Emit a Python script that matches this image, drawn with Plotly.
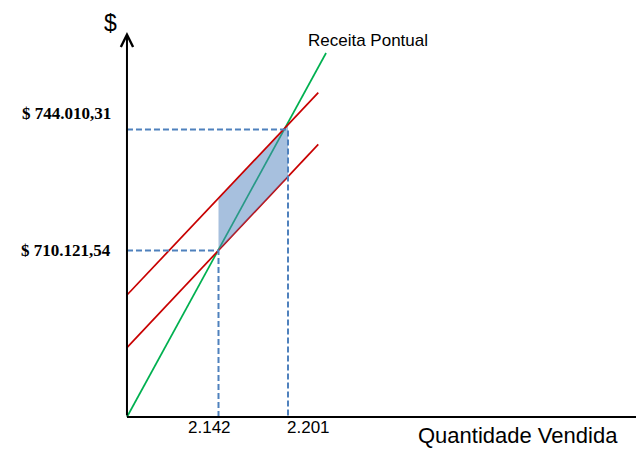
import numpy as np
import plotly.graph_objects as go

# ---- data ----
q_ticks = [2.142, 2.201]                   # Quantidade Vendida marks
r_ticks = [710121.54, 744010.31]           # $ marks
q_labels = ["2.142", "2.201"]
r_labels = ["$ 710.121,54", "$ 744.010,31"]

q_origin = 2.0643                          # axis origin (schematic)
r_origin = 663490.0
q_axis_end = 2.5032
r_axis_top = 771300.0

receita_q = [2.0643, 2.2333]               # Receita Pontual (green)
receita_r = [663490.0, 765435.0]
red_up_q = [2.0643, 2.2267]                # upper red line
red_up_r = [697658.0, 754316.0]
red_lo_q = [2.0643, 2.2267]                # lower red line
red_lo_r = [682899.0, 739865.0]

# page offset of the figure (body margin) and canvas
OFF = 8
W, H = 636, 441
x_range = [1.96330, 1.96330 + W * 0.00084892]
y_range = [778038.0 - H * 280.07, 778038.0]


def px(xp):
    return (xp - OFF) / W


def py(yp):
    return 1 - (yp - OFF) / H


fig = go.Figure()

fig.add_trace(go.Scatter(x=receita_q, y=receita_r, mode="lines",
                         line=dict(color="#00B050", width=1.7), hoverinfo="skip"))
fig.add_trace(go.Scatter(x=red_lo_q, y=red_lo_r, mode="lines",
                         line=dict(color="#C80000", width=1.7), hoverinfo="skip"))

up_a = np.interp(q_ticks[0], red_up_q, red_up_r)
up_b = np.interp(q_ticks[1], red_up_q, red_up_r)
lo_a = np.interp(q_ticks[0], red_lo_q, red_lo_r)
lo_b = np.interp(q_ticks[1], red_lo_q, red_lo_r)
fig.add_trace(go.Scatter(x=[q_ticks[0], q_ticks[0], q_ticks[1], q_ticks[1], q_ticks[0]],
                         y=[lo_a, up_a, up_b, lo_b, lo_a],
                         mode="lines", fill="toself", fillcolor="rgba(79,129,189,0.5)",
                         line=dict(width=0), hoverinfo="skip"))

fig.add_trace(go.Scatter(x=red_up_q, y=red_up_r, mode="lines",
                         line=dict(color="#C80000", width=1.7), hoverinfo="skip"))

for q, r in zip(q_ticks, r_ticks):
    fig.add_trace(go.Scatter(x=[q_origin, q, q], y=[r, r, r_origin], mode="lines",
                             line=dict(color="#4F81BD", width=2, dash="6px,3px"),
                             hoverinfo="skip"))

fig.add_trace(go.Scatter(x=[q_origin, x_range[1]], y=[r_origin, r_origin], mode="lines",
                         line=dict(color="black", width=2), hoverinfo="skip"))
fig.add_annotation(x=q_origin, y=r_axis_top, ax=q_origin, ay=r_origin,
                   xref="x", yref="y", axref="x", ayref="y",
                   showarrow=True, arrowhead=5, arrowsize=1.2, arrowwidth=2,
                   arrowcolor="black", text="")

for r, lab, ys in zip(r_ticks, r_labels, [0, 16]):
    fig.add_annotation(x=q_origin, y=r, xref="x", yref="y", text="<b>" + lab + "</b>",
                       showarrow=False, xanchor="right", yanchor="middle",
                       xshift=-14, yshift=ys,
                       font=dict(family="Liberation Serif", size=17, color="black"))
for q, lab, xs in zip(q_ticks, q_labels, [-9.5, 20]):
    fig.add_annotation(x=q, y=r_origin, xref="x", yref="y", text=lab,
                       showarrow=False, xanchor="center", yanchor="middle",
                       xshift=xs, yshift=-10,
                       font=dict(family="Liberation Sans", size=17, color="black"))

fig.add_annotation(x=px(517.5), y=py(435), xref="paper", yref="paper",
                   text="Quantidade Vendida", showarrow=False,
                   xanchor="center", yanchor="middle",
                   font=dict(family="Liberation Sans", size=22, color="black"))
fig.add_annotation(x=px(110), y=py(23), xref="paper", yref="paper",
                   text="$", showarrow=False, xanchor="center", yanchor="middle",
                   borderpad=0,
                   font=dict(family="Liberation Sans", size=23, color="black"))
fig.add_annotation(x=px(368), y=py(40), xref="paper", yref="paper",
                   text="Receita Pontual", showarrow=False,
                   xanchor="center", yanchor="middle",
                   font=dict(family="Liberation Sans", size=17, color="black"))

fig.update_layout(width=W, height=H, margin=dict(l=0, r=0, t=0, b=0),
                  plot_bgcolor="white", paper_bgcolor="white", showlegend=False,
                  xaxis=dict(range=x_range, visible=False, fixedrange=True),
                  yaxis=dict(range=y_range, visible=False, fixedrange=True))

fig.write_html("out.html")
